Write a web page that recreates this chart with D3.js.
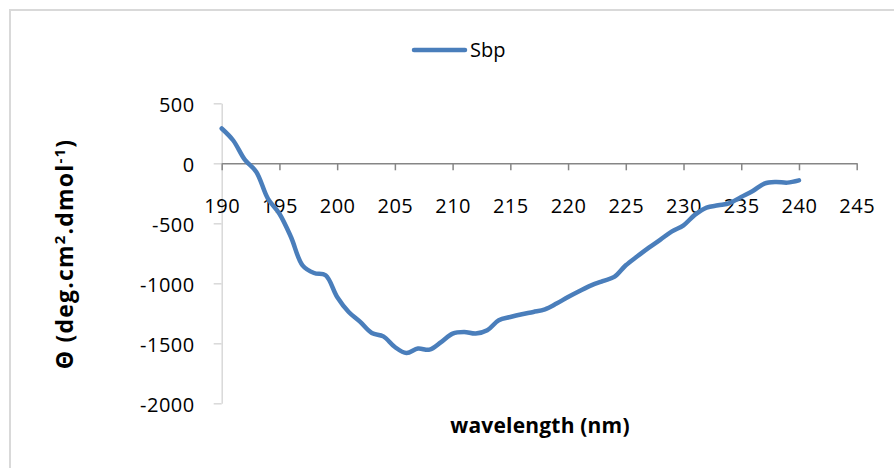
<!DOCTYPE html>
<html>
<head>
<meta charset="utf-8">
<script src="https://cdn.jsdelivr.net/npm/d3@7"></script>
<style>
  body { margin: 0; background: #fff; }
  text { font-family: "Open Sans", sans-serif; fill: #000; }
</style>
</head>
<body>
<div id="chart"></div>
<script>
// CD spectrum values
var wavelengths = d3.range(190, 241);
var sbpValues = [
    290, 190, 30, -72, -294, -420, -614, -850, -914, -933,
    -1114, -1239, -1322, -1414, -1442, -1531, -1581, -1544, -1553, -1490,
    -1419, -1406, -1419, -1392, -1308, -1281, -1258, -1239, -1217, -1169,
    -1114, -1064, -1017, -981, -947, -850, -775, -703, -636, -567,
    -517, -428, -369, -350, -331, -281, -231, -169, -156, -161,
    -142
];
var xTicks = [190, 195, 200, 205, 210, 215, 220, 225, 230, 235, 240, 245];
var yTicks = [500, 0, -500, -1000, -1500, -2000];
var seriesName = "Sbp";

var svgWidth = 894;
var svgHeight = 468;

var svg = d3.select("#chart")
    .append("svg")
    .attr("width", svgWidth)
    .attr("height", svgHeight);

// outer chart border
svg.append("rect")
    .attr("x", 10)
    .attr("y", 10)
    .attr("width", svgWidth + 20)
    .attr("height", svgHeight + 20)
    .attr("fill", "#fff")
    .attr("stroke", "#d9d9d9")
    .attr("stroke-width", 2);

var xScale = d3.scaleLinear()
    .domain([190, 245])
    .range([221.7, 856.7]);

var yScale = d3.scaleLinear()
    .domain([-2000, 500])
    .range([403.3, 103.3]);

// y axis (light gray, ticks to the left)
var yAxis = svg.append("g")
    .attr("transform", `translate(${xScale(190)}, 0)`)
    .call(d3.axisLeft(yScale).tickValues(yTicks).tickSize(8).tickSizeOuter(0).tickFormat(d => String(d)));
yAxis.select(".domain").attr("stroke", "#d9d9d9").attr("stroke-width", 1.5);
yAxis.selectAll(".tick line").attr("stroke", "#d9d9d9").attr("stroke-width", 1.5);
yAxis.selectAll(".tick text")
    .attr("x", -27)
    .attr("dy", "0.4em")
    .attr("font-size", "20px")
    .attr("font-family", "Open Sans, sans-serif")
    .attr("letter-spacing", "0.5px")
    .attr("fill", "#000");

// x axis sits on y = 0
var xAxis = svg.append("g")
    .attr("transform", `translate(0, ${yScale(0)})`)
    .call(d3.axisBottom(xScale).tickValues(xTicks).tickSize(7).tickSizeOuter(0).tickFormat(d3.format("d")));
xAxis.select(".domain").attr("stroke", "#868686").attr("stroke-width", 1.5);
xAxis.selectAll(".tick line").attr("stroke", "#868686").attr("stroke-width", 1.5);
xAxis.selectAll(".tick text")
    .attr("y", 50)
    .attr("dy", 0)
    .attr("font-size", "20px")
    .attr("font-family", "Open Sans, sans-serif")
    .attr("letter-spacing", "0.5px")
    .attr("fill", "#000");

// the smoothed line
var line = d3.line()
    .x((d, i) => xScale(wavelengths[i]))
    .y(d => yScale(d))
    .curve(d3.curveCatmullRom);

svg.append("path")
    .datum(sbpValues)
    .attr("d", line)
    .attr("fill", "none")
    .attr("stroke", "#4a7ebb")
    .attr("stroke-width", 4.5)
    .attr("stroke-linecap", "round")
    .attr("stroke-linejoin", "round");

// legend
svg.append("line")
    .attr("x1", 414)
    .attr("x2", 465)
    .attr("y1", 50)
    .attr("y2", 50)
    .attr("stroke", "#4a7ebb")
    .attr("stroke-width", 4.5)
    .attr("stroke-linecap", "round");

svg.append("text")
    .attr("x", 470)
    .attr("y", 57)
    .attr("font-size", "20px")
    .text(seriesName);

// axis titles
svg.append("text")
    .attr("x", 540)
    .attr("y", 433)
    .attr("text-anchor", "middle")
    .attr("font-size", "21px")
    .attr("font-weight", "bold")
    .attr("letter-spacing", "0.2px")
    .text("wavelength (nm)");

var yTitle = svg.append("text")
    .attr("transform", "translate(73, 254) rotate(-90)")
    .attr("text-anchor", "middle")
    .attr("font-size", "23px")
    .attr("font-weight", "bold")
    .attr("letter-spacing", "1.2px");
yTitle.append("tspan").text("Θ (deg.cm");
yTitle.append("tspan").attr("dy", -8).attr("font-size", "15px").text("2");
yTitle.append("tspan").attr("dy", 8).text(".dmol");
yTitle.append("tspan").attr("dy", -8).attr("font-size", "15px").text("-1");
yTitle.append("tspan").attr("dy", 8).text(")");
</script>
</body>
</html>
